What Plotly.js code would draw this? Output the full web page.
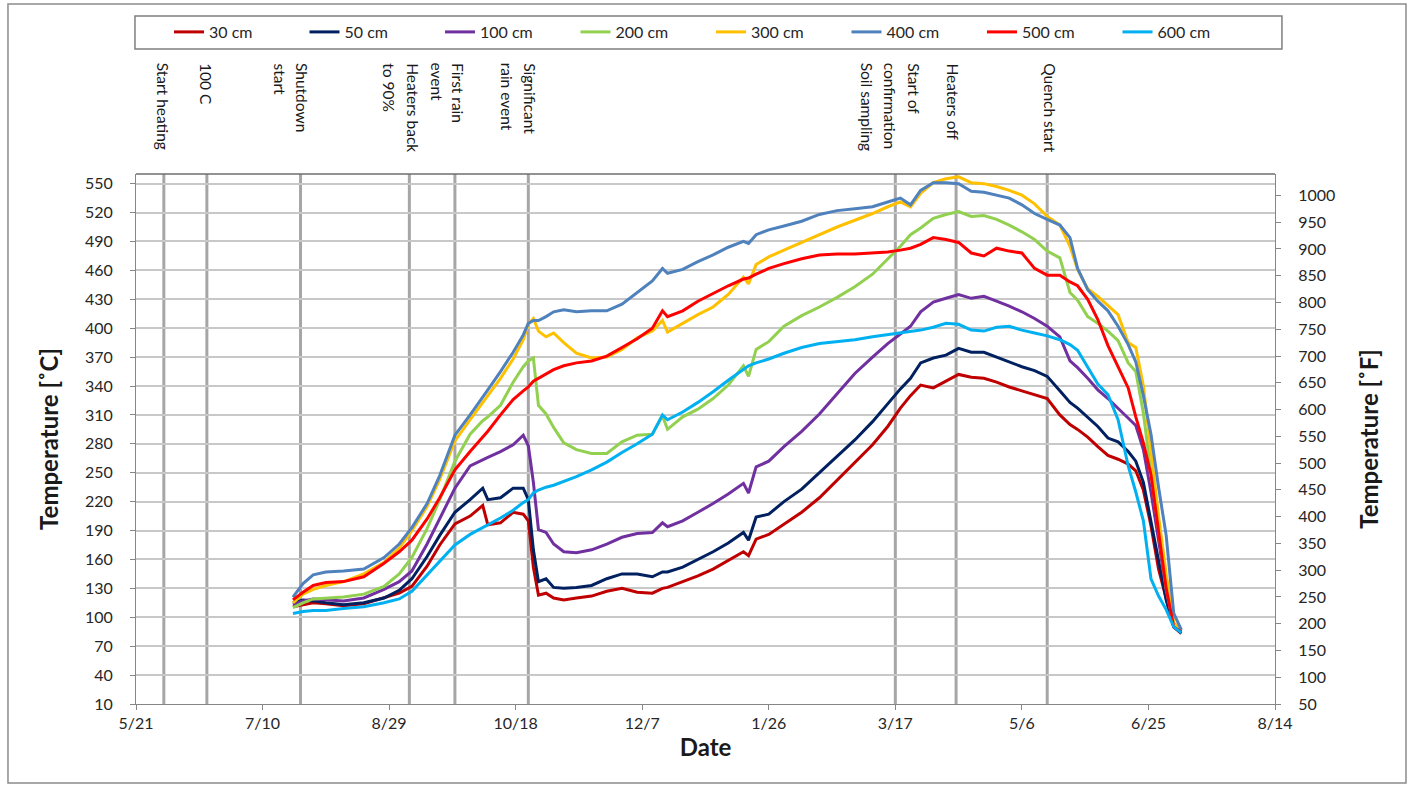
<!DOCTYPE html>
<html>
<head>
<meta charset="utf-8">
<script src="https://cdn.plot.ly/plotly-3.0.1.min.js"></script>
<style>
html,body{margin:0;padding:0;background:#ffffff;}
#chart{width:1408px;height:785px;}
</style>
</head>
<body>
<div id="chart"></div>
<script>
// ---------------- DATA ----------------
const dates = ['2009-07-22','2009-07-26','2009-07-30','2009-08-04','2009-08-11','2009-08-19','2009-08-27','2009-09-02','2009-09-07','2009-09-13',
'2009-09-18','2009-09-24','2009-09-30','2009-10-05','2009-10-07','2009-10-12','2009-10-17','2009-10-21','2009-10-23','2009-10-25',
'2009-10-27','2009-10-30','2009-11-02','2009-11-06','2009-11-11','2009-11-17','2009-11-23','2009-11-29','2009-12-05','2009-12-11',
'2009-12-15','2009-12-17','2009-12-23','2009-12-29','2010-01-04','2010-01-10','2010-01-16','2010-01-18','2010-01-21','2010-01-26',
'2010-02-01','2010-02-08','2010-02-15','2010-02-22','2010-03-01','2010-03-08','2010-03-14','2010-03-19','2010-03-23','2010-03-27',
'2010-04-01','2010-04-06','2010-04-11','2010-04-16','2010-04-21','2010-04-26','2010-05-01','2010-05-06','2010-05-11','2010-05-16',
'2010-05-21','2010-05-25','2010-05-28','2010-06-01','2010-06-05','2010-06-09','2010-06-13','2010-06-17','2010-06-20','2010-06-23',
'2010-06-26','2010-06-29','2010-07-02','2010-07-05','2010-07-08'];

const t30 = [111,113,115,114,112,114,120,125,132,153,
175,197,205,216,196,198,209,207,200,152,
123,125,120,118,120,122,127,130,126,125,
130,131,137,143,150,159,168,164,181,186,
197,209,224,242,261,279,298,317,330,341,
338,345,352,349,348,344,339,335,331,327,
310,300,295,287,277,268,264,259,252,232,
195,150,120,90,83];

const t50 = [115,118,117,115,113,115,120,128,140,163,
185,209,222,234,222,224,234,234,222,170,
137,140,131,130,131,133,140,145,145,142,
147,147,152,160,168,177,188,180,204,207,
220,233,250,266,284,303,322,337,348,364,
369,372,379,375,375,370,365,360,356,350,
335,323,317,307,298,286,282,272,262,240,
199,155,118,90,84];

const t100 = [113,117,119,118,117,120,129,137,148,176,
202,234,257,264,266,272,279,289,278,240,
191,188,176,168,167,170,176,183,187,188,
198,194,200,209,218,228,239,229,256,262,
277,293,311,332,353,370,384,394,402,417,
427,431,435,431,433,428,423,417,410,402,
391,366,359,348,336,327,317,307,299,274,
230,180,128,90,85];

const t200 = [110,115,119,120,121,124,132,145,162,192,
222,262,290,304,308,320,344,360,366,369,
320,311,297,281,274,270,270,282,289,290,
309,295,308,316,327,341,361,350,378,386,
402,413,422,432,443,456,472,485,497,504,
514,518,521,516,517,513,507,500,492,480,
473,437,429,412,405,397,387,364,355,312,
250,190,130,92,86];

const t300 = [115,124,129,133,137,145,157,172,190,215,
243,283,305,322,330,348,368,388,404,410,
397,391,395,385,374,369,370,378,390,397,
408,396,405,414,422,435,453,446,466,474,
481,489,497,505,512,519,526,531,526,540,
551,555,557,551,550,547,543,538,529,516,
507,485,461,441,433,424,414,385,380,340,
270,205,145,94,87];

const t400 = [121,135,144,147,148,150,162,176,193,218,
247,289,310,328,336,355,375,393,405,408,
408,412,417,419,417,418,418,425,437,449,
462,457,461,469,476,484,490,488,497,502,
506,511,518,522,524,526,531,535,528,543,
551,551,550,542,541,538,535,528,519,513,
507,494,462,440,428,418,402,383,365,330,
290,235,185,104,87];

const t500 = [118,126,133,136,137,142,156,168,180,202,
224,253,272,287,293,310,326,335,339,345,
348,352,357,361,364,366,371,380,389,400,
418,412,418,428,436,444,451,452,456,462,
467,472,476,477,477,478,479,481,483,487,
494,492,489,478,475,483,480,478,462,455,
455,448,444,430,409,382,360,338,308,281,
248,190,130,90,85];

const t600 = [104,106,107,107,109,111,115,119,127,144,
159,175,186,193,196,203,211,219,222,229,
232,235,237,241,246,253,261,271,280,290,
310,305,313,323,334,346,357,361,364,368,
374,380,384,386,388,391,393,395,396,398,
401,405,404,398,397,401,402,398,395,392,
388,383,377,360,342,331,305,257,230,200,
140,122,108,90,84];

const seriesNames = ['30 cm','50 cm','100 cm','200 cm','300 cm','400 cm','500 cm','600 cm'];
const seriesValues = [t30,t50,t100,t200,t300,t400,t500,t600];

const tickDates = ['2009-05-21','2009-07-10','2009-08-29','2009-10-18','2009-12-07','2010-01-26','2010-03-17','2010-05-06','2010-06-25','2010-08-14'];

const eventDates = ['2009-06-01','2009-06-18','2009-07-25','2009-09-06','2009-09-24','2009-10-23','2010-03-17','2010-04-10','2010-05-16'];

// event label lines (each line drawn rotated), attached to an event date
const labelDates = ['2009-06-01','2009-06-18','2009-07-25','2009-07-25','2009-09-06','2009-09-06','2009-09-24','2009-09-24','2009-10-23','2009-10-23','2010-03-17','2010-03-17','2010-03-17','2010-04-10','2010-05-16'];
const labelTexts = ['Start heating','100 C','Shutdown','start','Heaters back','to 90%','First rain','event','Significant','rain event','Soil sampling','confirmation','Start of','Heaters off','Quench start'];

// ---------------- STYLE ----------------
const colors = ['#C00000','#002060','#7030A0','#92D050','#FFC000','#4F81BD','#FF0000','#00B0F0'];
const labelShifts = [-1,-1,1,-21,3,-21,3,-18,1,-21,-28,-5,18,-4,2];
const FONT = 'Lato, "Open Sans", Arial, sans-serif';

const traces = seriesNames.map((n,i)=>({
  type:'scatter', mode:'lines', name:n, x:dates, y:seriesValues[i],
  line:{color:colors[i], width:3}, hoverinfo:'skip'
}));
// secondary (Fahrenheit) axis carrier
traces.push({type:'scatter', mode:'lines', x:[], y:[], yaxis:'y2', showlegend:false, hoverinfo:'skip'});

const shapes = eventDates.map(d=>({
  type:'line', xref:'x', yref:'paper', x0:d, x1:d, y0:0, y1:1,
  line:{color:'#A6A6A6', width:3}, layer:'between'
}));
// top border of plot area
shapes.push({type:'line', xref:'paper', yref:'paper', x0:0, x1:1, y0:1, y1:1, line:{color:'#6E6E6E', width:1.5}, layer:'above'});
// legend box
shapes.push({type:'rect', xref:'paper', yref:'paper', x0:-0.0009, x1:1.0061, y0:1.2358, y1:1.2981, line:{color:'#7F7F7F', width:1.5}, fillcolor:'rgba(0,0,0,0)'});
// outer chart border
shapes.push({type:'rect', xref:'paper', yref:'paper', x0:-0.1124, x1:1.1150, y0:-0.149, y1:1.3208, line:{color:'#8C8C8C', width:1.5}, fillcolor:'rgba(0,0,0,0)'});

const annotations = labelTexts.map((t,i)=>({
  text:t, x:labelDates[i], xref:'x', yref:'paper', y:(704-61)/530,
  xanchor:'center', yanchor:'top', textangle:90, showarrow:false,
  xshift:labelShifts[i], font:{family:FONT, size:15.5, color:'#1a1a1a'}
}));

const layout = {
  width:1408, height:785,
  margin:{l:136, r:133, t:174, b:81, autoexpand:false},
  paper_bgcolor:'#ffffff', plot_bgcolor:'#ffffff',
  font:{family:FONT, size:16, color:'#262626'},
  showlegend:true,
  legend:{orientation:'h', x:(169-136)/1139, xanchor:'left', y:(704-32)/530, yanchor:'middle',
          font:{family:FONT, size:16, color:'#262626'}, bgcolor:'rgba(0,0,0,0)',
          entrywidth:90.5, entrywidthmode:'pixels', traceorder:'normal'},
  xaxis:{type:'date', range:['2009-05-21','2010-08-14'], tickvals:tickDates, tickformat:'%-m/%-d',
         showgrid:false, zeroline:false, showline:true, linecolor:'#868686', linewidth:1,
         ticks:'outside', ticklen:5, tickcolor:'#868686', tickfont:{size:16, color:'#262626'},
         title:{text:'<b>Date</b>', font:{size:24, color:'#1a1a1a'}, standoff:7}},
  yaxis:{range:[10,560], tick0:10, dtick:30, showgrid:true, gridcolor:'#C8C8C8', gridwidth:2,
         zeroline:false, showline:true, linecolor:'#868686', linewidth:1,
         ticks:'outside', ticklen:5, tickcolor:'#868686', ticklabelstandoff:14,
         tickfont:{size:16, color:'#262626'},
         title:{text:'<b>Temperature [˚C]</b>', font:{size:24, color:'#1a1a1a'}, standoff:19}},
  yaxis2:{overlaying:'y', side:'right', range:[50,1040], tick0:50, dtick:50, showgrid:false,
          zeroline:false, showline:true, linecolor:'#868686', linewidth:1,
          ticks:'outside', ticklen:5, tickcolor:'#868686', ticklabelstandoff:14,
          tickfont:{size:16, color:'#262626'},
          title:{text:'<b>Temperature [˚F]</b>', font:{size:24, color:'#1a1a1a'}, standoff:26}},
  shapes:shapes,
  annotations:annotations
};

Plotly.newPlot('chart', traces, layout, {staticPlot:true, displayModeBar:false});
</script>
</body>
</html>
